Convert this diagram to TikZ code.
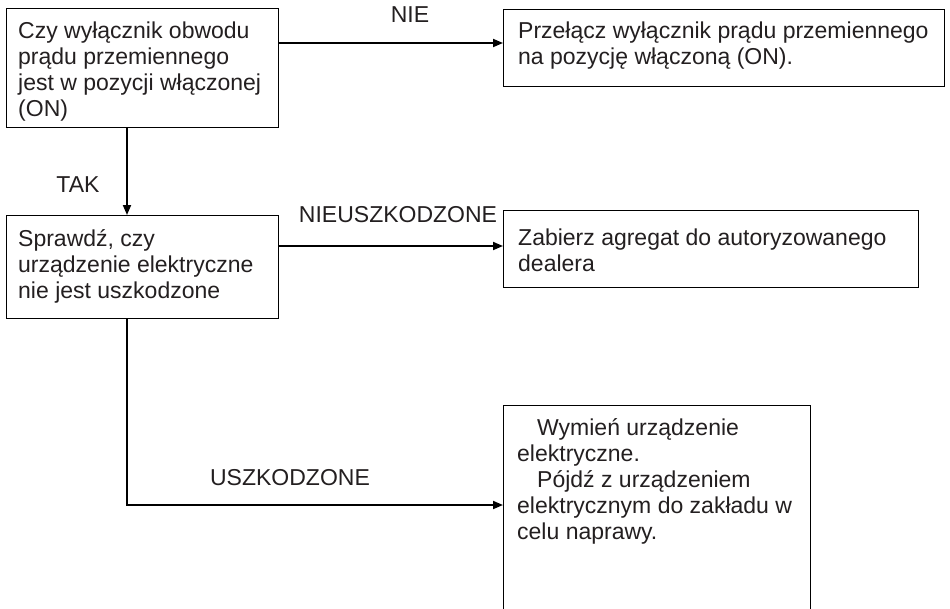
\documentclass[tikz,border=0pt]{standalone}
\usepackage{fontspec}
\setmainfont{Liberation Sans}
\usetikzlibrary{arrows.meta}
\definecolor{textc}{HTML}{231F20}
\begin{document}
\begin{tikzpicture}[x=1pt,y=-1pt,
  box/.style={draw=black, line width=1.2pt, anchor=north west, inner sep=0pt},
  txt/.style={anchor=north west, align=left, inner sep=0pt, text=textc, font=\fontsize{23}{26}\selectfont},
  conn/.style={line width=1.8pt, -{Triangle[length=10pt,width=8pt]}},
  lbl/.style={text=textc, font=\fontsize{23}{26}\selectfont, inner sep=0pt}]
\path[fill=white,use as bounding box] (0,0) rectangle (950,608);
\clip (0,0) rectangle (950,608);

% boxes
\node[box, minimum width=272pt, minimum height=119pt] (b1) at (6,8) {};
\node[box, minimum width=441pt, minimum height=77pt] (b2) at (503,9) {};
\node[box, minimum width=272pt, minimum height=103pt] (b3) at (6,215) {};
\node[box, minimum width=415pt, minimum height=77pt] (b4) at (503,210) {};
\node[box, minimum width=307pt, minimum height=240pt] (b5) at (503,405) {};

% texts
\node[txt] (t1) at (18,22) {Czy wyłącznik obwodu\\prądu przemiennego\\jest w pozycji włączonej\\(ON)};
\node[txt] (t2) at (518,22) {Przełącz wyłącznik prądu przemiennego\\na pozycję włączoną (ON).};
\node[txt] (t3) at (18,229) {Sprawdź, czy\\urządzenie elektryczne\\nie jest uszkodzone};
\node[txt] (t4) at (518,229) {Zabierz agregat do autoryzowanego\\dealera};
\node[txt] (t5) at (517,418) {\hspace*{20pt}Wymień urządzenie\\elektryczne.\\\hspace*{20pt}Pójdź z urządzeniem\\elektrycznym do zakładu w\\celu naprawy.};

% labels
\node[lbl] (l1) at (410,15) {NIE};
\node[lbl] (l2) at (78,185) {TAK};
\node[lbl] (l3) at (398,215) {NIEUSZKODZONE};
\node[lbl] (l4) at (290,478) {USZKODZONE};

% connectors
\draw[conn] ([yshift=-35pt]b1.north east) -- ([yshift=-35pt]b1.north east -| b2.west);
\draw[conn] ([xshift=121pt]b1.south west) -- ([xshift=121pt]b1.south west |- b3.north);
\draw[conn] ([yshift=-31pt]b3.north east) -- ([yshift=-31pt]b3.north east -| b4.west);
\draw[conn] ([xshift=121pt]b3.south west) |- ([yshift=-100pt]b5.north west);
\end{tikzpicture}
\end{document}
